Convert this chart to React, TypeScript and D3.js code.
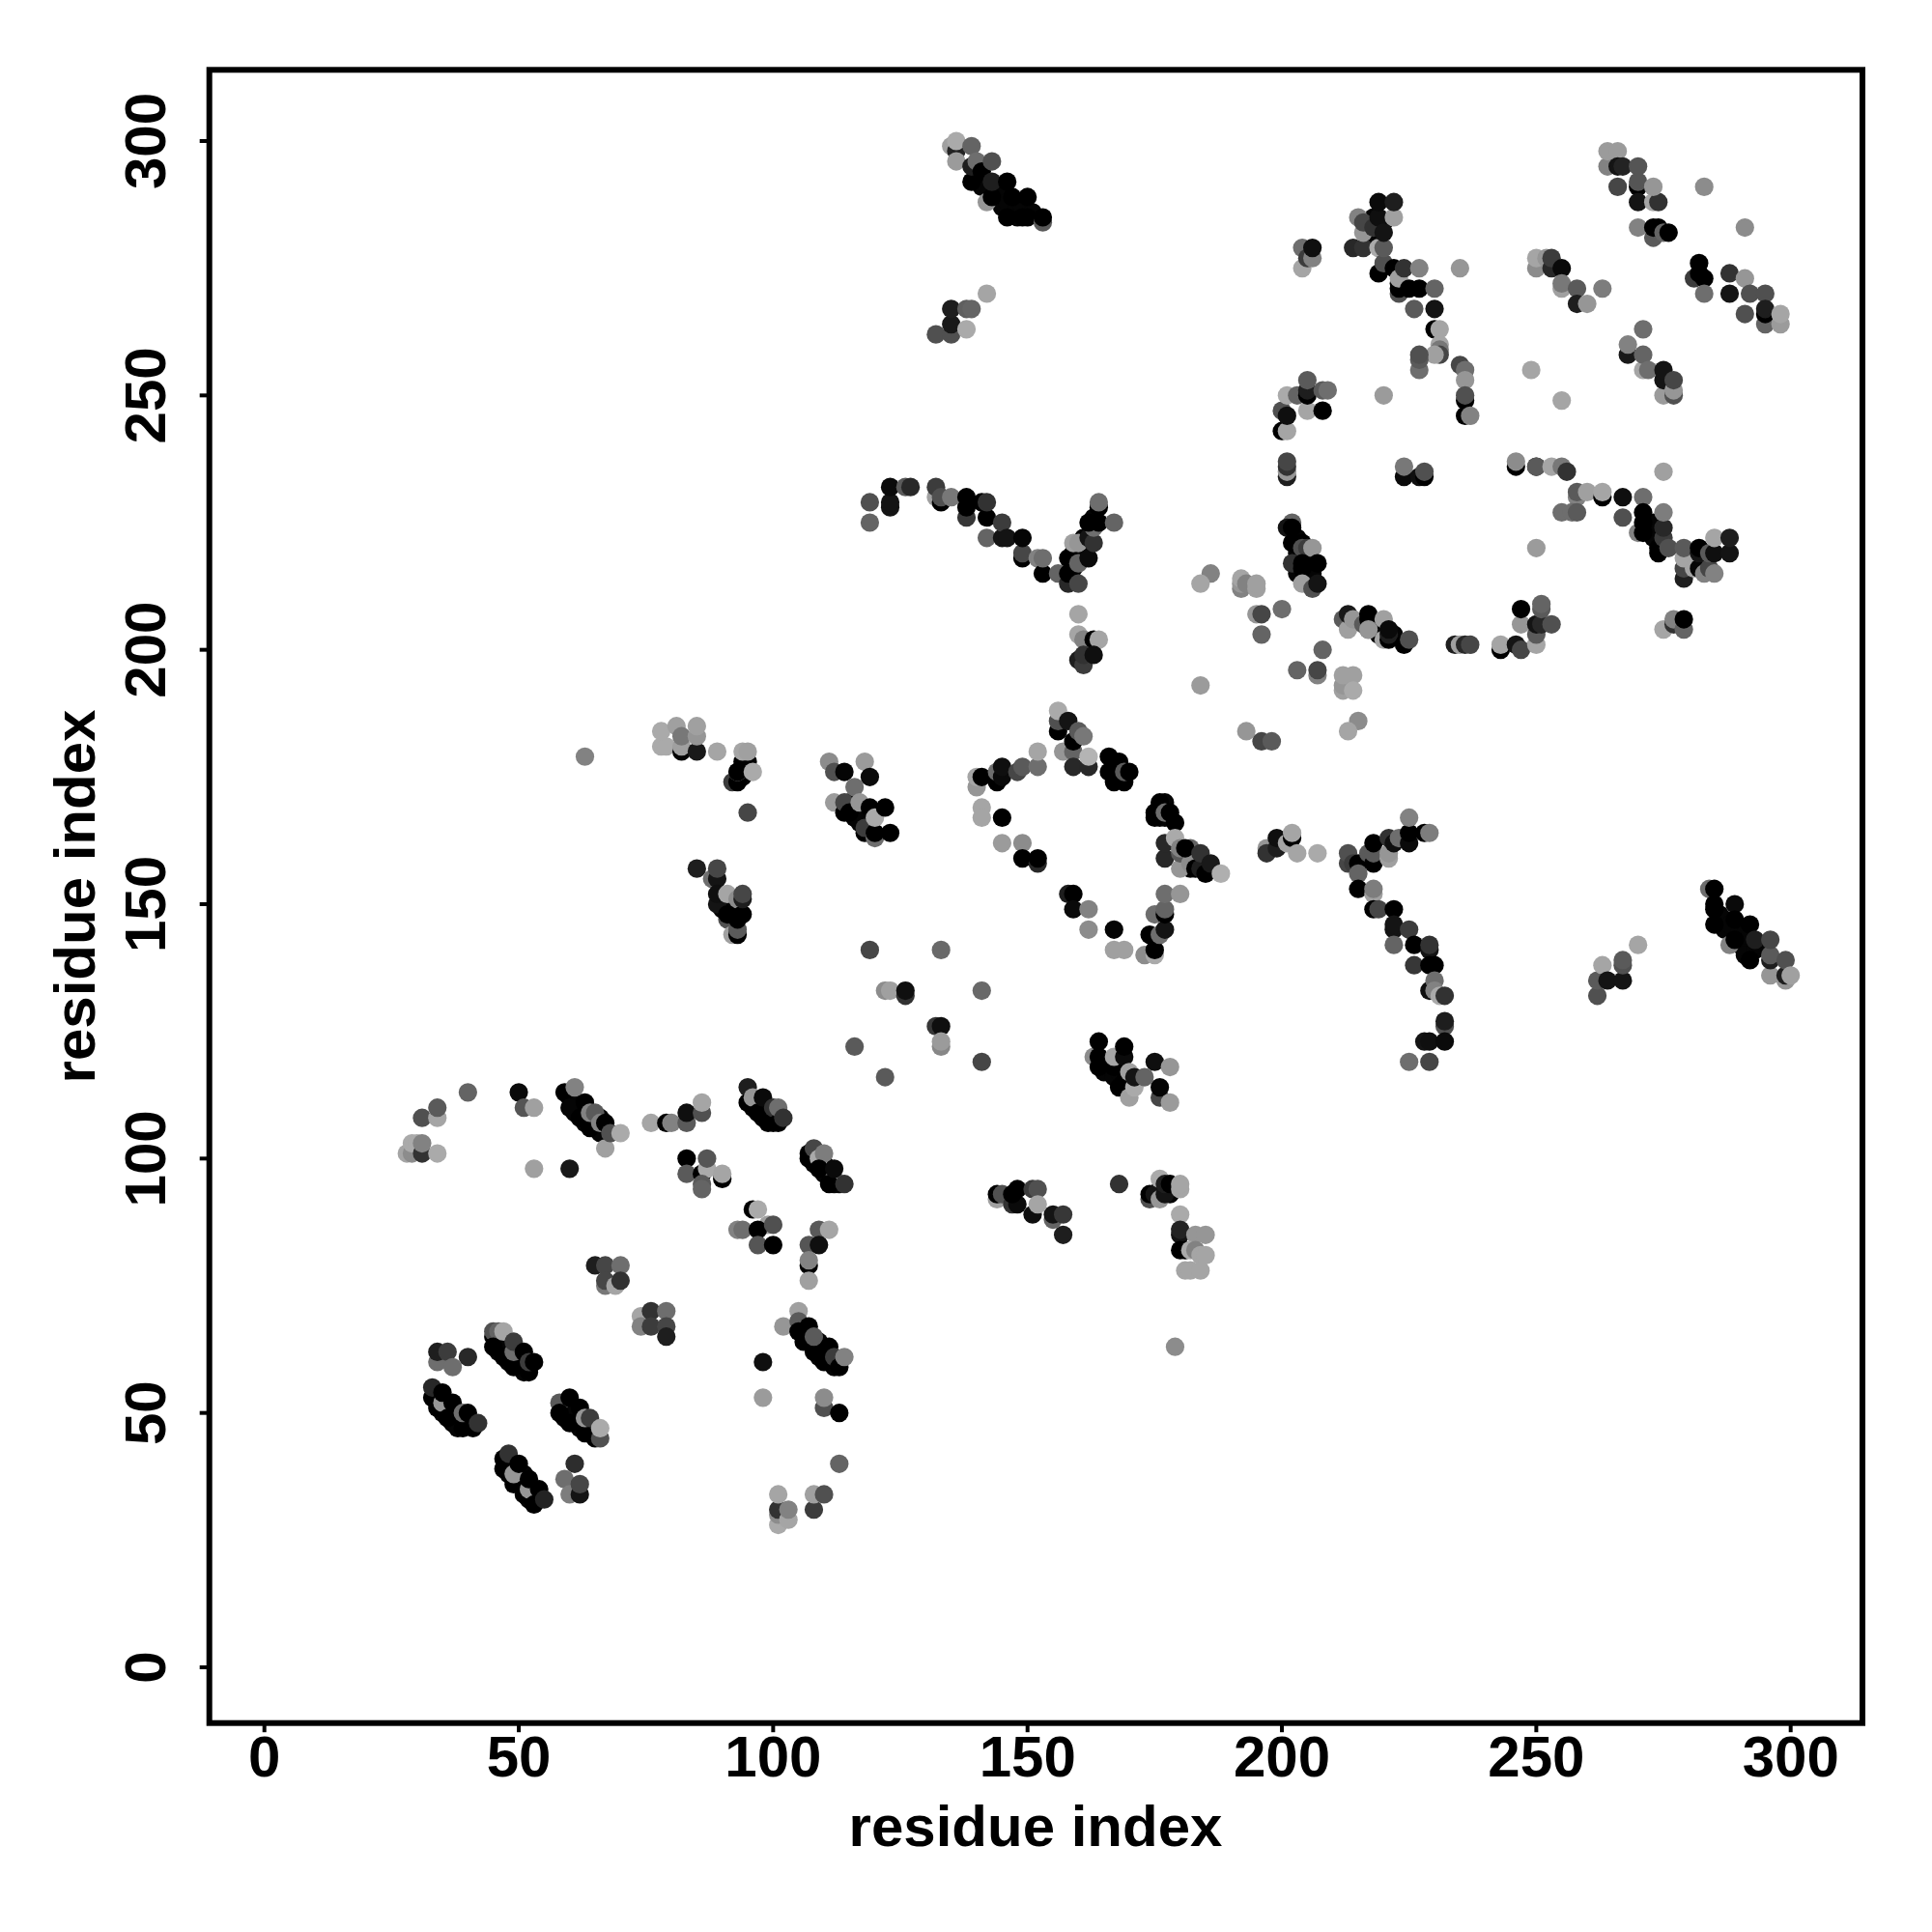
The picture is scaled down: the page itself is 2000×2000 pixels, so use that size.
import React from "react";
import * as d3 from "d3";

// Each contact: [residue i, residue j, grey level]
type C = [number, number, number];

// Dense dark contacts lying beneath the lighter ones on the diagonals
const denseSheets: C[] = [[34,53,5],[35,50,5],[36,51,5],[37,48,5],[38,49,5],[38,47,5],[39,49,5],[40,48,5],[46,64,5],[46,62,5],[47,63,5],[48,60,5],[48,62,5],[50,60,5],[51,58,5],[50,61,5],[59,51,5],[59,49,5],[61,50,5],[61,48,5],[62,47,5],[63,47,5],[64,46,5],[65,47,5],[48,39,5],[48,38,5],[49,40,5],[50,37,5],[51,36,5],[51,38,5],[52,33,5],[53,35,5],[54,33,5]];
const denseStrands: C[] = [[60,112,5],[61,109,5],[62,110,5],[63,107,5],[64,108,5],[65,106,5],[66,105,5],[66,108,5],[96,110,5],[97,111,5],[98,108,5],[99,110,5],[100,107,5],[100,108,5],[108,99,5],[108,100,5],[110,97,5],[110,99,5],[111,97,5],[112,95,5],[113,95,5],[106,66,5],[106,67,5],[107,64,5],[107,65,5],[108,63,5],[109,64,5],[109,61,5],[110,63,5],[111,60,5],[112,59,5],[112,60,5],[115,170,5],[116,168,5],[116,167,5],[117,166,5],[119,166,5],[118,167,5],[93,175,5],[94,175,5],[94,176,5],[95,178,5],[90,149,5],[90,150,5],[92,148,5],[92,147,5]];
const denseUpper: C[] = [[286,148,5],[287,147,5],[287,145,5],[288,146,5],[290,145,5],[290,142,5],[291,144,5],[291,140,5],[293,141,5],[294,142,5],[140,293,5],[141,291,5],[142,291,5],[144,290,5],[145,289,5],[145,287,5],[146,288,5],[148,287,5],[148,285,5],[149,287,5],[151,286,5],[167,177,5],[168,176,5],[177,170,5],[176,167,5],[177,167,5],[178,167,5],[181,159,5],[182,157,5],[183,158,5],[185,157,5],[165,119,5],[165,117,5],[166,118,5],[167,116,5],[168,117,5],[169,116,5],[170,115,5],[272,224,5],[273,222,5],[273,225,5],[281,219,5],[281,218,5],[223,272,5],[224,271,5],[159,216,5],[159,219,5],[161,220,5],[161,222,5],[163,226,5],[176,94,5],[178,93,5],[218,285,5],[219,283,5],[219,281,5],[218,280,5],[217,280,5],[220,284,5],[203,222,5],[203,219,5],[205,218,5],[205,214,5],[203,215,5],[205,216,5],[206,215,5],[218,205,5],[219,203,5],[222,203,5]];

const upperLeftArc: C[] = [[28,101,165],[29,101,140],[29,103,170],[30,103,170],[31,101,50],[31,103,130],[34,101,170],[31,108,80],[34,108,165],[34,110,90],[40,113,100],[50,113,10],[51,110,85],[53,110,160],[53,98,160],[60,98,25]];
const strandA: C[] = [[59,113,0],[60,110,5],[62,108,0],[61,114,130],[63,111,0],[64,106,0],[64,109,130],[65,109,90],[66,107,130],[67,107,0],[67,102,160],[68,105,80],[70,105,170]];
const strandB: C[] = [[76,107,165],[79,107,0],[80,107,130],[83,107,90],[83,109,15],[86,109,80],[86,111,165],[83,100,0],[83,97,90],[86,97,0],[87,98,170],[87,100,85],[86,95,90],[86,94,100],[90,96,0],[90,97,165]];
const strandC: C[] = [[95,114,30],[95,111,0],[96,112,150],[97,109,0],[98,112,10],[99,107,0],[100,110,50],[101,107,0],[101,110,110],[102,108,50]];
const strandD: C[] = [[107,100,0],[107,101,0],[108,102,70],[109,100,170],[110,101,125],[109,98,0],[112,96,130],[111,95,0],[112,98,10],[114,95,50],[116,122,90]];
const midLeft: C[] = [[96,90,0],[97,90,170],[93,86,130],[94,86,110],[99,87,160],[97,86,0],[100,87,80],[97,83,85],[100,83,0],[109,86,90],[111,86,165],[107,83,85],[109,83,15],[107,79,0],[107,80,130],[107,76,160]];
const small: C[] = [[65,79,30],[67,79,70],[70,79,110],[67,75,120],[67,76,70],[69,75,165],[70,76,50],[74,69,165],[76,70,50],[79,70,110],[74,67,130],[76,67,60],[79,67,70],[79,65,30]];
const strandE: C[] = [[105,70,160],[102,67,150],[105,68,90],[105,66,0],[106,64,0],[107,67,0],[108,62,0],[108,65,90],[110,60,0],[111,63,0],[112,61,60],[113,59,0],[114,61,130],[98,60,15],[98,53,155],[110,51,80],[110,53,140],[113,50,0],[113,40,100]];
const bottomPts: C[] = [[101,28,170],[101,30,140],[101,31,50],[101,34,165],[103,29,165],[103,31,130],[108,31,60],[108,34,160],[110,34,80]];
const lowerLeft: C[] = [[34,60,110],[34,62,30],[36,62,60],[37,59,110],[40,61,40]];
const sheet1: C[] = [[33,53,0],[33,55,40],[34,51,0],[35,52,150],[35,54,0],[36,49,0],[37,52,0],[39,47,0],[39,50,110],[40,50,0],[41,47,0],[42,48,50]];
const sheet2: C[] = [[45,65,0],[45,66,80],[46,66,100],[45,63,0],[47,66,165],[47,61,0],[49,59,0],[49,62,110],[49,64,60],[51,62,0],[52,58,0],[52,60,60],[53,60,0]];
const sheet3: C[] = [[58,52,90],[58,50,0],[60,53,0],[60,48,0],[62,51,0],[63,46,0],[63,49,150],[64,49,60],[65,45,0],[66,45,80],[66,47,170]];
const sheet4: C[] = [[47,39,0],[47,41,0],[48,42,50],[49,36,0],[49,38,150],[50,40,0],[51,34,0],[52,35,150],[52,37,0],[53,32,0],[54,35,0],[55,33,35],[59,37,110],[60,34,125],[61,40,45],[62,34,20],[62,36,70]];
const topCluster: C[] = [[63,179,130],[78,181,170],[79,181,170],[78,184,170],[81,185,160],[82,180,5],[82,181,160],[82,183,120],[85,180,25],[85,183,150],[85,185,160],[89,180,165],[92,174,60],[93,174,0],[93,176,160],[94,178,0],[93,176,0],[94,180,165],[95,180,160],[96,176,170],[95,168,70]];
const rightOfTop: C[] = [[111,178,140],[112,176,80],[114,176,5],[112,170,155],[114,168,0],[114,170,70],[115,168,0],[116,173,110],[117,170,150],[118,164,0],[118,165,60],[118,178,155],[119,169,0],[119,175,10],[120,163,110],[120,164,0],[120,167,170],[122,169,0],[123,164,0]];
const helixLeft: C[] = [[85,157,30],[88,155,110],[89,155,20],[89,157,70],[89,150,20],[89,152,15],[91,152,165],[91,147,80],[91,148,0],[93,151,140],[92,144,160],[93,144,0],[93,145,90],[93,147,0],[94,148,0],[94,151,30],[94,152,70]];
const loopTop: C[] = [[140,173,150],[140,175,165],[141,175,0],[141,169,165],[141,167,165],[144,174,0],[144,176,110],[145,175,10],[145,177,15],[145,167,0],[145,162,155],[148,176,70],[149,177,90],[149,162,140],[149,159,0],[152,158,40],[152,159,0],[152,177,110],[152,180,165]];
const loopRight: C[] = [[156,184,0],[156,186,80],[156,188,170],[157,180,150],[158,186,20],[159,180,100],[159,182,0],[159,177,40],[160,184,90],[161,183,120],[162,177,40],[162,179,180],[166,176,0],[166,179,0],[167,174,0],[168,178,0],[169,174,0],[169,176,90],[170,176,0],[175,167,0],[175,168,0],[176,170,0],[177,168,110],[178,168,0],[179,166,0]];
const loopCorner: C[] = [[177,159,40],[177,162,40],[179,163,170],[180,157,150],[180,160,90],[180,161,130],[182,161,100],[182,158,140],[181,161,0],[183,157,0],[184,157,30],[184,160,50],[185,156,0],[186,158,25],[188,156,175]];
const loopBottom: C[] = [[158,152,30],[159,152,0],[159,149,10],[162,149,130],[162,145,140],[167,145,5],[167,141,160],[169,141,160],[173,140,140],[175,140,170],[175,141,0],[174,144,0],[176,144,110],[177,145,20],[175,148,110],[177,148,0],[177,149,100],[177,152,110],[180,152,150]];
const centerPts: C[] = [[119,141,70],[133,141,105],[122,133,140],[123,133,160],[126,132,50],[126,133,15],[141,133,105],[132,126,55],[133,126,15],[133,122,135],[133,123,155],[122,116,90],[141,119,70]];
const cluster120: C[] = [[163,120,140],[164,118,0],[164,120,0],[164,123,0],[167,118,0],[167,120,165],[168,114,0],[169,115,0],[169,120,10],[169,122,0],[170,112,160],[171,114,170],[170,117,160],[171,116,20],[173,116,100],[175,119,15],[176,112,70],[176,114,5],[178,111,155],[178,118,150]];
const bottomMid: C[] = [[144,92,160],[144,93,0],[145,93,80],[147,91,50],[148,91,10],[147,93,0],[148,94,0],[151,89,15],[151,94,60],[152,94,80],[152,91,165],[155,88,100],[155,89,20],[157,85,30],[157,89,55],[168,95,50]];
const corner180: C[] = [[174,92,80],[174,93,0],[175,93,20],[176,92,150],[176,96,170],[177,93,20],[177,95,30],[178,95,0],[180,94,165],[180,95,165],[180,89,170],[180,85,20],[180,86,35],[180,82,0],[181,82,0],[183,85,150],[182,82,170],[183,82,130],[185,85,150],[184,81,165],[185,81,165],[181,78,165],[182,78,165],[184,78,165],[179,63,140]];
const topHelix: C[] = [[135,299,160],[136,298,35],[136,296,155],[136,300,170],[139,299,100],[139,292,0],[139,295,30],[140,296,110],[141,294,0],[142,288,150],[143,289,0],[143,292,30],[143,296,80],[146,285,0],[146,292,0],[147,289,0],[149,285,0],[150,285,0],[150,289,0],[153,284,90],[153,285,0]];
const pair135: C[] = [[132,262,80],[135,262,80],[135,264,25],[135,267,30],[138,263,170],[138,267,95],[139,267,100],[142,270,165]];
const arc120: C[] = [[119,225,100],[119,229,80],[123,228,20],[123,229,20],[123,232,10],[126,232,90],[127,232,40],[132,230,160],[132,232,60],[133,229,0],[133,230,80],[135,230,120],[138,226,55],[138,228,0],[138,230,0],[141,229,0],[142,222,100],[142,226,0],[142,229,50],[145,222,20],[145,225,60],[146,222,20],[149,218,0],[149,219,70],[149,222,5],[152,218,130],[153,215,0],[153,218,110],[156,215,100]];
const vShape: C[] = [[158,213,40],[158,215,0],[158,218,0],[159,221,160],[160,213,70],[160,217,100],[160,221,150],[162,218,10],[162,222,20],[163,221,50],[163,224,110],[162,225,0],[164,225,0],[164,228,0],[164,229,110],[167,225,100],[160,207,165],[160,203,165],[161,202,130],[163,202,0],[164,202,165],[160,198,30],[161,197,60],[161,199,50],[163,199,15]];
const topMid: C[] = [[204,275,165],[204,279,110],[205,277,60],[206,277,130],[206,279,15],[214,279,40],[215,285,130],[216,279,50],[216,282,150],[216,284,70],[218,283,50],[219,274,0],[219,279,170],[219,285,15],[219,288,10],[220,276,80],[220,279,90],[220,282,20],[222,285,160],[222,288,30]];
const topMid2: C[] = [[222,275,0],[223,270,80],[223,271,0],[223,273,160],[224,275,50],[225,271,0],[226,267,90],[227,271,0],[227,275,130],[230,267,20],[230,271,100],[235,275,150],[230,263,0],[231,263,165],[231,260,165],[231,259,120],[231,258,70],[230,258,160],[227,255,110],[227,257,90],[227,258,80],[235,256,70],[236,255,110],[236,253,150],[236,249,0],[236,250,80],[236,246,0],[237,246,130],[220,250,155]];
const ring205: C[] = [[200,243,0],[201,243,165],[200,247,80],[201,246,15],[201,250,170],[203,250,100],[205,247,165],[205,250,0],[205,251,30],[205,253,90],[208,247,0],[208,251,90],[209,251,110],[201,234,30],[201,235,150],[201,236,50],[201,237,70],[224,234,10],[224,236,120],[227,234,15],[228,234,0],[228,235,80]];
const topRight: C[] = [[264,295,130],[264,298,155],[266,298,155],[266,295,20],[267,295,35],[266,291,70],[270,291,0],[270,292,85],[270,295,85],[270,288,20],[273,288,165],[274,288,50],[273,291,150],[283,291,140],[291,283,140],[270,283,130],[273,281,90],[273,283,0],[274,283,0],[275,282,100],[276,282,0]];
const right250: C[] = [[250,275,140],[250,277,165],[252,277,150],[253,275,40],[253,277,60],[255,275,10],[255,271,160],[255,272,120],[258,271,90],[263,271,125],[258,268,30],[260,268,150]];
const right280: C[] = [[281,273,60],[282,274,0],[282,276,0],[283,273,0],[283,270,110],[288,274,50],[288,270,20],[291,273,150],[292,270,80],[295,270,80],[291,266,80],[295,264,100],[295,266,0],[295,267,30],[298,264,155],[298,266,165]];
const right265: C[] = [[271,263,110],[268,258,25],[268,260,130],[271,255,165],[271,258,100],[272,255,110],[275,250,155],[275,253,20],[275,255,20],[277,250,80],[277,251,150],[277,253,70],[249,255,165],[255,249,165]];
const bridge: C[] = [[246,236,0],[246,237,140],[250,236,20],[250,236,90],[253,236,165],[255,236,120],[256,235,50],[258,230,130],[258,231,90],[260,231,160],[263,230,0],[263,231,165],[267,230,15],[271,230,110],[255,227,110],[257,227,110],[258,227,90],[250,220,155],[275,235,160]];
const band270: C[] = [[267,226,80],[270,223,130],[271,223,0],[271,225,0],[271,227,0],[274,219,0],[274,220,0],[275,222,60],[275,224,40],[275,227,125],[276,220,80],[279,214,30],[279,216,70],[279,218,165],[279,220,90],[281,216,165],[282,216,5],[282,219,20],[282,220,0],[283,215,130],[284,216,70],[284,219,90],[285,215,130],[285,219,15],[285,222,165],[288,219,20],[288,222,30]];
const scatter190: C[] = [[186,215,130],[184,213,165],[192,212,130],[192,213,150],[192,214,165],[193,213,130],[195,212,160],[195,213,160],[200,208,110],[195,207,150],[196,207,70],[196,203,100],[208,200,100],[184,193,155],[203,196,100],[207,195,130],[207,196,70],[212,192,160],[212,193,150],[212,195,160],[214,195,160],[214,192,170],[215,186,140],[213,184,165],[193,184,150],[196,182,70],[198,182,90]];
const cluster204: C[] = [[202,225,100],[201,224,20],[202,224,0],[202,221,0],[204,221,0],[204,220,80],[205,220,60],[206,220,150],[202,217,50],[204,217,0],[207,217,0],[204,216,0],[204,213,160],[206,212,80],[207,213,20]];
const row205: C[] = [[212,206,90],[213,204,160],[213,207,25],[214,206,150],[216,205,90],[217,204,80],[217,206,0],[217,207,0],[217,204,150],[220,202,165],[220,206,160],[221,202,0],[221,203,30],[221,204,10],[224,201,0],[225,202,80],[234,201,30],[235,201,160],[236,201,40],[237,201,70]];
const row245: C[] = [[243,200,0],[243,201,165],[246,201,20],[247,200,70],[247,205,150],[247,208,0],[250,201,165],[250,203,90],[250,205,20],[251,205,40],[251,208,90],[251,209,100],[253,205,80],[275,204,165],[277,205,50],[277,206,130],[279,204,100],[279,206,0]];
const strand160: C[] = [[197,161,150],[197,160,50],[199,161,30],[199,163,15],[201,162,165],[202,163,0],[202,164,165],[203,160,165],[207,160,170]];
const strand215: C[] = [[213,158,70],[213,160,80],[214,158,60],[215,158,0],[215,156,100],[215,153,0],[217,160,90],[218,158,0],[218,160,90],[218,162,0],[218,152,160],[218,153,125],[221,159,160],[221,160,150],[221,163,50],[222,162,15],[223,163,110],[225,162,10],[225,164,0],[225,167,130],[228,164,0],[229,164,125]];
const strand225: C[] = [[218,149,0],[219,149,70],[222,149,0],[222,145,20],[222,146,20],[222,142,100],[225,145,60],[226,142,0],[226,138,55],[229,141,20],[229,142,50],[229,138,0],[230,138,0],[229,133,15],[230,135,110],[230,133,130],[231,132,170],[232,132,50],[232,126,80],[232,127,30],[228,123,20],[229,123,15],[232,123,10],[225,119,110],[229,119,70]];
const lowerRight: C[] = [[262,132,80],[262,135,90],[263,138,165],[264,135,20],[267,135,20],[267,138,80],[267,139,90],[270,142,165]];
const helix290: C[] = [[284,153,110],[285,153,0],[285,150,0],[285,149,0],[285,146,0],[288,142,130],[289,150,10],[289,147,0],[289,143,0],[292,146,0],[292,139,0],[293,143,30],[296,136,150],[296,139,30],[296,140,90],[296,143,70],[299,135,150],[299,136,30],[299,139,80],[300,136,160]];

const allGroups: C[][] = [denseSheets,denseStrands,denseUpper,upperLeftArc,strandA,strandB,strandC,strandD,midLeft,small,strandE,bottomPts,lowerLeft,sheet1,sheet2,sheet3,sheet4,topCluster,rightOfTop,helixLeft,loopTop,loopRight,loopCorner,loopBottom,centerPts,cluster120,bottomMid,corner180,topHelix,pair135,arc120,vShape,topMid,topMid2,ring205,topRight,right250,right280,right265,bridge,band270,scatter190,cluster204,row205,row245,strand160,strand215,strand225,lowerRight,helix290];

const tickValues = [0, 50, 100, 150, 200, 250, 300];
const xTitle = "residue index";
const yTitle = "residue index";

export default function App() {
  const frame = { left: 216.7, right: 1928, top: 72.3, bottom: 1783.7 };
  const x = d3.scaleLinear().domain([0, 300]).range([273.7, 1853.7]);
  const y = d3.scaleLinear().domain([0, 300]).range([1726, 146]);
  const font = "'Liberation Sans', Arial, sans-serif";
  const fs = 60;
  const points = allGroups.flat();
  return (
    <svg width={2000} height={2000} viewBox="0 0 2000 2000"
      style={{ position: "absolute", left: 0, top: 0, background: "#fff" }}>
      <rect width={2000} height={2000} fill="#fff" />
      <g>
        {points.map((d, k) => (
          <circle key={k} cx={x(d[0])} cy={y(d[1])} r={9.6} fill={d3.rgb(d[2], d[2], d[2]).formatRgb()} />
        ))}
      </g>
      <rect x={frame.left} y={frame.top} width={frame.right - frame.left} height={frame.bottom - frame.top}
        fill="none" stroke="#000" strokeWidth={6} />
      {tickValues.map((t) => (
        <g key={t}>
          <line x1={x(t)} x2={x(t)} y1={frame.bottom} y2={frame.bottom + 9.5} stroke="#000" strokeWidth={4} />
          <text x={x(t)} y={1839} textAnchor="middle" fontFamily={font} fontWeight="bold" fontSize={fs} fill="#000">{t}</text>
          <line x1={frame.left} x2={frame.left - 10} y1={y(t)} y2={y(t)} stroke="#000" strokeWidth={4} />
          <text transform={`translate(170.5,${y(t)}) rotate(-90)`} textAnchor="middle" fontFamily={font} fontWeight="bold" fontSize={fs} fill="#000">{t}</text>
        </g>
      ))}
      <text x={1072} y={1911} textAnchor="middle" fontFamily={font} fontWeight="bold" fontSize={fs} fill="#000">{xTitle}</text>
      <text transform="translate(98,928) rotate(-90)" textAnchor="middle" fontFamily={font} fontWeight="bold" fontSize={fs} fill="#000">{yTitle}</text>
    </svg>
  );
}
